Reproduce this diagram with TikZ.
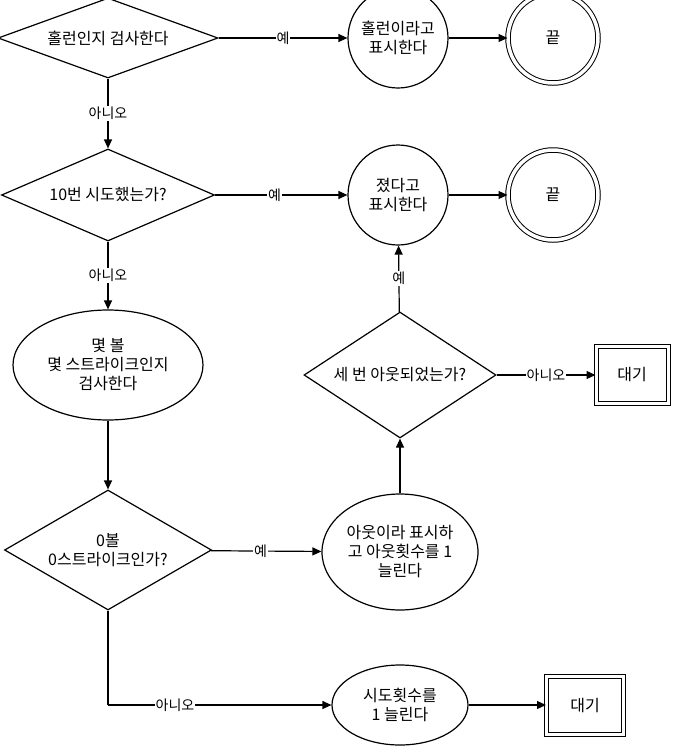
\documentclass[tikz,border=0pt]{standalone}
\usepackage{fontspec}
\setmainfont{Noto Sans CJK KR}
\usetikzlibrary{shapes.geometric,arrows.meta}
\begin{document}
\begin{tikzpicture}[x=1pt,y=-1pt,
  base/.style={draw,line width=1.2pt,inner sep=0pt,align=center,font=\fontsize{16}{19}\selectfont},
  dia/.style={base,diamond,aspect=2.6},
  circ/.style={base,circle,minimum size=100pt},
  end/.style={base,circle,minimum size=90pt,double,double distance=3.5pt,line width=1pt},
  ell/.style={base,ellipse},
  wait/.style={base,rectangle,double,double distance=3pt,line width=1pt},
  arr/.style={-{Triangle[length=9pt,width=8pt]},line width=1.2pt},
  lab/.style={fill=white,inner sep=1pt,font=\fontsize{14}{16}\selectfont}]
\useasboundingbox (0,0) rectangle (676,753);
\node[dia,minimum width=220pt,minimum height=80pt] (d1) at (108,38) {홀런인지 검사한다};
\node[circ] (c1) at (398,38) {홀런이라고\\표시한다};
\node[end] (e1) at (553,38) {끝};
\node[dia,minimum width=213pt,minimum height=92pt] (d2) at (108,195) {10번 시도했는가?};
\node[circ] (c2) at (398,195) {졌다고\\표시한다};
\node[end] (e2) at (553,195) {끝};
\node[ell,minimum width=190pt,minimum height=110pt] (el3) at (108,365) {몇 볼\\몇 스트라이크인지\\검사한다};
\node[dia,minimum width=207pt,minimum height=120pt] (d4) at (108,550) {0볼\\0스트라이크인가?};
\node[ell,minimum width=156pt,minimum height=116pt] (el4) at (400,552) {아웃이라 표시하\\고 아웃횟수를 1\\늘린다};
\node[dia,minimum width=192pt,minimum height=126pt] (d5) at (400,375) {세 번 아웃되었는가?};
\node[wait,minimum width=72pt,minimum height=57pt] (w1) at (632,375) {대기};
\node[ell,minimum width=136pt,minimum height=80pt] (el5) at (400,705) {시도횟수를\\1 늘린다};
\node[wait,minimum width=77pt,minimum height=58pt] (w2) at (585,705) {대기};
\coordinate (k) at (108,705);
\draw[arr] (d1) -- node[lab]{예} (c1);
\draw[arr] (c1) -- (e1);
\draw[arr] (d1) -- node[lab]{아니오} (d2);
\draw[arr] (d2) -- node[lab,pos=0.45]{예} (c2);
\draw[arr] (c2) -- (e2);
\draw[arr] (d2) -- node[lab]{아니오} (el3);
\draw[arr] (el3) -- (d4);
\draw[arr] (d4) -- node[lab,pos=0.45]{예} (el4);
\draw[arr] (el4) -- (d5);
\draw[arr] (d5) -- node[lab]{예} (c2);
\draw[arr] (d5) -- node[lab]{아니오} (w1);
\draw[line width=1.2pt] (d4.south) -- (k);
\draw[arr] (k) -- node[lab,pos=0.3]{아니오} (el5);
\draw[arr] (el5) -- (w2);
\end{tikzpicture}
\end{document}
